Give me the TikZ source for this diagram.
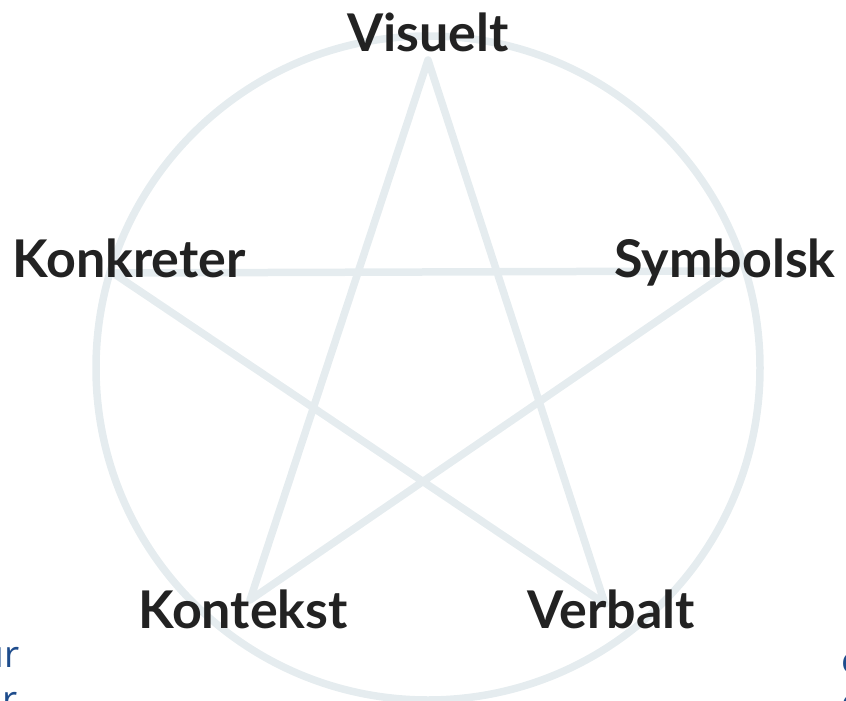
\documentclass[tikz,border=0pt]{standalone}
\usepackage{fontspec}
\newfontfamily\lblfont{Lato}
\newfontfamily\sidefont{Open Sans}
\usepackage{tikz}
\usetikzlibrary{positioning}
\definecolor{ringgray}{RGB}{229,236,239}
\definecolor{labelink}{RGB}{34,34,34}
\definecolor{sideblue}{RGB}{30,76,140}
\tikzset{
  ring/.style={draw=ringgray, line width=7.5pt},
  star/.style={draw=ringgray, line width=7.5pt, line join=round},
  lbl/.style={font=\lblfont\bfseries\fontsize{52}{52}\selectfont, text=labelink, inner sep=0pt, anchor=base},
  frag/.style={font=\sidefont\fontsize{37}{37}\selectfont, text=sideblue, inner sep=0pt}
}

\begin{document}
\begin{tikzpicture}[x=1pt, y=-1pt]
\useasboundingbox (0,0) rectangle (846,701);
\clip (0,0) rectangle (846,701);
% ring and star
\draw[ring] (428,368) circle[radius=332pt];
\coordinate (vis) at (428,60);
\coordinate (kon) at (113,273);
\coordinate (sym) at (730,271);
\coordinate (ktx) at (250,600);
\coordinate (ver) at (605,604);
\draw[star] (vis) -- (ktx) -- (sym) -- (kon) -- (ver) -- cycle;
% labels
\node[lbl] (visuelt) at (428,52) {Visuelt};
\node[lbl] (konkreter) at (129,277) {Konkreter};
\node[lbl] (symbolsk) at (725,277) {Symbolsk};
\node[lbl] (kontekst) at (243,628) {Kontekst};
\node[lbl] (verbalt) at (611,628) {Verbalt};
% cut-off text at the edges
\node[frag, anchor=base east] (fragA) at (20,667) {ur};
\node[frag, anchor=base east] (fragB) at (18,712) {r};
\node[frag, anchor=base west] (fragC) at (841,673) {e};
\node[frag, anchor=base west] (fragD) at (841,715) {e};
\end{tikzpicture}
\end{document}
